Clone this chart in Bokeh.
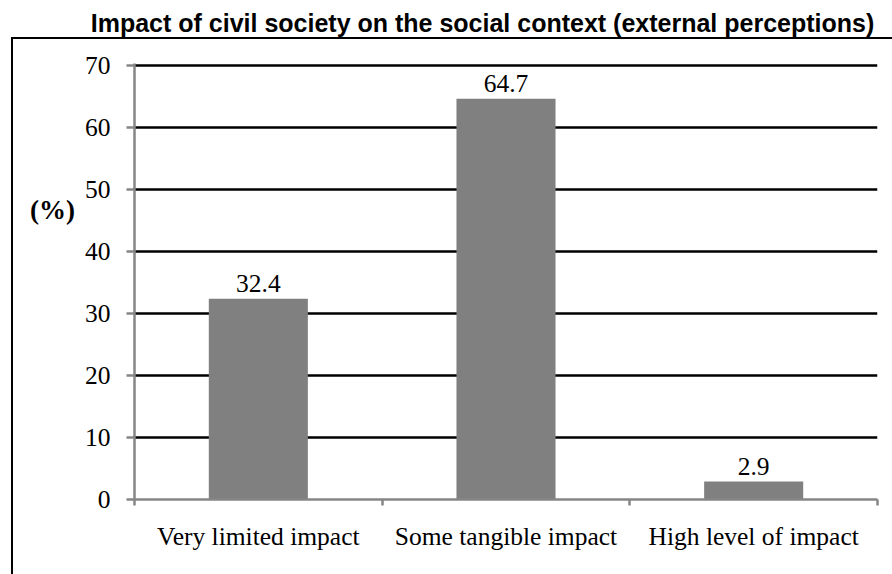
from bokeh.plotting import figure
from bokeh.models import Range1d, FixedTicker, Label, ColumnDataSource, InlineStyleSheet
from bokeh.core.properties import value
from bokeh.embed import file_html
from bokeh.resources import INLINE

# Survey shares (%) for each impact level
categories = ["Very limited impact", "Some tangible impact", "High level of impact"]
shares = [32.4, 64.7, 2.9]
y_ticks = [0, 10, 20, 30, 40, 50, 60, 70]

title_text = "Impact of civil society on the social context (external perceptions)"

SERIF = "Liberation Serif"
SANS = "Liberation Sans"
AXIS_GREY = "#868686"
FS = "25.5px"

xs = [i + 0.5 for i in range(len(categories))]
src = ColumnDataSource(dict(x=xs, top=shares, lbl=[f"{v:.1f}" for v in shares]))

# chart box drawn around the plot (left and top edges)
box_css = InlineStyleSheet(css="""
:host::after {
  content: "";
  position: absolute;
  left: 11px;
  top: 37px;
  width: 881px;
  height: 537px;
  border-left: 2.5px solid black;
  border-top: 2.5px solid black;
  box-sizing: border-box;
  pointer-events: none;
}
""")

p = figure(width=892, height=574, output_backend="svg", toolbar_location=None,
           x_range=Range1d(0, len(categories)), y_range=Range1d(0, 70.4),
           min_border_left=134, min_border_right=15, min_border_top=63, min_border_bottom=75)
p.stylesheets = [box_css]
p.outline_line_color = None
p.background_fill_color = "white"
p.border_fill_color = "white"

p.vbar(x="x", top="top", width=0.4, source=src, fill_color="#808080", line_color=None)
p.text(x="x", y="top", text="lbl", source=src, y_offset=-15,
       text_align="center", text_baseline="alphabetic",
       text_font=value(SERIF), text_font_size=FS, text_color="black")

# horizontal gridlines
p.xgrid.visible = False
p.ygrid.grid_line_color = "black"
p.ygrid.grid_line_width = 2.5
p.ygrid.ticker = FixedTicker(ticks=y_ticks)

# y axis
ya = p.yaxis[0]
ya.ticker = FixedTicker(ticks=y_ticks)
ya.axis_line_color = AXIS_GREY
ya.axis_line_width = 2.5
ya.major_tick_line_color = AXIS_GREY
ya.major_tick_line_width = 2.5
ya.major_tick_out = 8
ya.major_tick_in = 0
ya.minor_tick_line_color = None
ya.major_label_standoff = 16
ya.major_label_text_font = SERIF
ya.major_label_text_font_size = FS
ya.major_label_text_color = "black"

# x axis: labels at bar centres, tick marks at category boundaries
xa = p.xaxis[0]
xa.ticker = FixedTicker(ticks=xs, minor_ticks=list(range(len(categories) + 1)))
xa.major_label_overrides = {x: c for x, c in zip(xs, categories)}
xa.axis_line_color = AXIS_GREY
xa.axis_line_width = 2.5
xa.major_tick_line_color = None
xa.major_tick_out = 0
xa.major_tick_in = 0
xa.minor_tick_line_color = AXIS_GREY
xa.minor_tick_line_width = 2.5
xa.minor_tick_out = 6
xa.minor_tick_in = 0
xa.major_label_standoff = 16
xa.major_label_text_font = SERIF
xa.major_label_text_font_size = FS
xa.major_label_text_color = "black"

# annotations placed in the top side panel so they are not clipped to the frame
p.add_layout(Label(x=348, y=41, x_units="screen", y_units="screen", text=title_text,
                   text_align="center", text_baseline="alphabetic",
                   text_font=SANS, text_font_style="bold", text_font_size="25px",
                   text_color="black"), "above")
p.add_layout(Label(x=-82, y=-174, x_units="screen", y_units="screen", text="(%)",
                   text_align="center", text_baseline="alphabetic",
                   text_font=SERIF, text_font_style="bold", text_font_size="27px",
                   text_color="black"), "above")

open("out.html", "w").write(file_html(p, INLINE))
